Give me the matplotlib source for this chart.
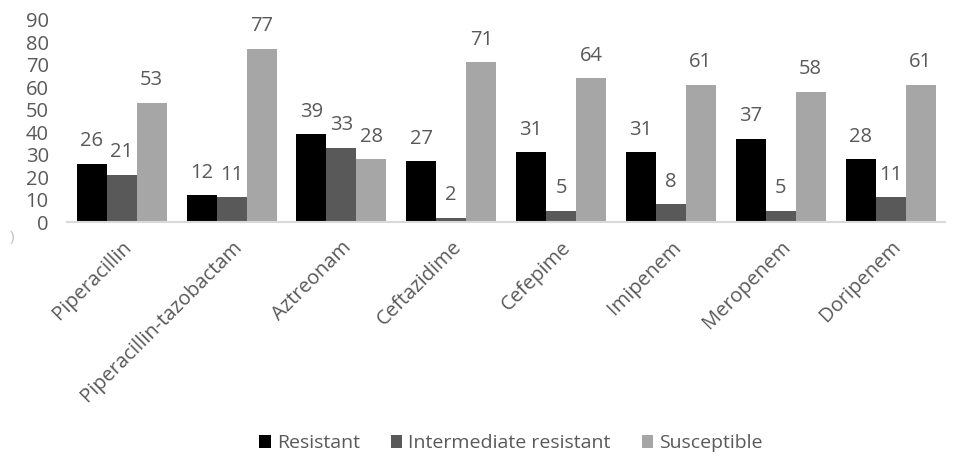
import matplotlib
matplotlib.use("Agg")
import matplotlib.pyplot as plt
import numpy as np

categories = ["Piperacillin", "Piperacillin-tazobactam", "Aztreonam", "Ceftazidime",
              "Cefepime", "Imipenem", "Meropenem", "Doripenem"]
resistant = [26, 12, 39, 27, 31, 31, 37, 28]
intermediate = [21, 11, 33, 2, 5, 8, 5, 11]
susceptible = [53, 77, 28, 71, 64, 61, 58, 61]
series_names = ["Resistant", "Intermediate resistant", "Susceptible"]
y_ticks = [0, 10, 20, 30, 40, 50, 60, 70, 80, 90]

plt.rcParams['font.family'] = ['Open Sans', 'DejaVu Sans']
text_color = "#595959"
colors = ["#000000", "#595959", "#a6a6a6"]
fs = 14.5

fig = plt.figure(figsize=(9.55, 4.57), dpi=100)
ax = fig.add_axes([0.070, 0.514, 0.920, 0.443])

x = np.arange(len(categories))
w = 0.273
for i, (vals, name) in enumerate(zip([resistant, intermediate, susceptible], series_names)):
    pos = x + (i - 1) * w
    ax.bar(pos, vals, width=w, color=colors[i], label=name, zorder=2)
    for p, v in zip(pos, vals):
        ax.text(p, v + 10, str(v), ha="center", va="center", fontsize=fs, color=text_color)

ax.set_ylim(0, 90)
ax.set_xlim(-0.5, len(categories) - 0.5)
ax.set_yticks(y_ticks)
ax.set_yticklabels([str(t) for t in y_ticks], fontsize=fs, color=text_color)
ax.tick_params(axis="y", length=0, pad=13)
ax.tick_params(axis="x", length=0, pad=11)
ax.set_xticks(x)
ax.set_xticklabels(categories, rotation=45, ha="right", rotation_mode="anchor",
                   fontsize=fs, color=text_color)
for s in ["top", "right", "left"]:
    ax.spines[s].set_visible(False)
ax.spines["bottom"].set_color("#d9d9d9")
ax.spines["bottom"].set_linewidth(1.5)

fig.text(0.012, 0.48, ")", fontsize=11, color="#bfbfbf", ha="center", va="center")

fig.legend(loc="center", bbox_to_anchor=(0.535, 0.03), ncol=3, frameon=False,
           fontsize=14, labelcolor=text_color, handlelength=0.6, handleheight=0.6,
           handletextpad=0.3, columnspacing=1.6)

fig.savefig("out.png", dpi=100)
